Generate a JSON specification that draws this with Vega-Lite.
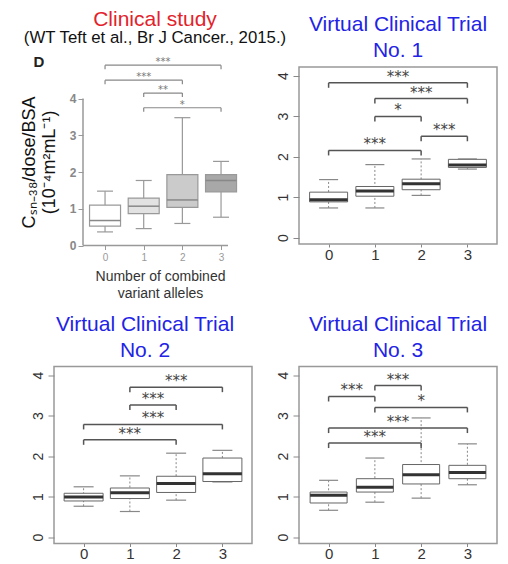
{
"$schema": "https://vega.github.io/schema/vega-lite/v6.json",
"background": "white",
"padding": {"left": 20, "top": 9, "right": 0, "bottom": 0},
"columns": 2,
"spacing": {"row": 120.5, "column": 47},
"bounds": "flush",
"config": {"view": {"stroke": null}, "axis": {"grid": false}},
"datasets": {
"boxes": [
{"p":1,"g":0,"lo":0.37,"q1":0.53,"med":0.68,"q3":1.10,"hi":1.48},
{"p":1,"g":1,"lo":0.46,"q1":0.87,"med":1.07,"q3":1.29,"hi":1.77},
{"p":1,"g":2,"lo":0.60,"q1":1.04,"med":1.24,"q3":1.93,"hi":3.48},
{"p":1,"g":3,"lo":0.77,"q1":1.46,"med":1.77,"q3":1.93,"hi":2.29},
{"p":2,"g":0,"lo":0.73,"q1":0.88,"med":0.93,"q3":1.12,"hi":1.43},
{"p":2,"g":1,"lo":0.73,"q1":1.02,"med":1.15,"q3":1.26,"hi":1.80},
{"p":2,"g":2,"lo":1.04,"q1":1.18,"med":1.33,"q3":1.44,"hi":1.94},
{"p":2,"g":3,"lo":1.69,"q1":1.73,"med":1.79,"q3":1.93,"hi":1.94},
{"p":3,"g":0,"lo":0.76,"q1":0.89,"med":0.99,"q3":1.08,"hi":1.24},
{"p":3,"g":1,"lo":0.63,"q1":0.95,"med":1.09,"q3":1.21,"hi":1.51},
{"p":3,"g":2,"lo":0.91,"q1":1.10,"med":1.32,"q3":1.50,"hi":2.07},
{"p":3,"g":3,"lo":1.36,"q1":1.37,"med":1.56,"q3":1.95,"hi":2.14},
{"p":4,"g":0,"lo":0.66,"q1":0.84,"med":1.03,"q3":1.11,"hi":1.40},
{"p":4,"g":1,"lo":0.86,"q1":1.11,"med":1.23,"q3":1.44,"hi":1.95},
{"p":4,"g":2,"lo":0.96,"q1":1.31,"med":1.54,"q3":1.79,"hi":2.94},
{"p":4,"g":3,"lo":1.29,"q1":1.44,"med":1.59,"q3":1.77,"hi":2.30}
],
"brackets": [
{"p":1,"a":0,"b":3,"mid":1.5,"y":4.91,"s":"***"},
{"p":1,"a":0,"b":2,"mid":1.0,"y":4.50,"s":"***"},
{"p":1,"a":1,"b":2,"mid":1.5,"y":4.15,"s":"**"},
{"p":1,"a":1,"b":3,"mid":2.0,"y":3.75,"s":"*"},
{"p":2,"a":0,"b":3,"mid":1.5,"y":3.82,"s":"***"},
{"p":2,"a":1,"b":3,"mid":2.0,"y":3.43,"s":"***"},
{"p":2,"a":1,"b":2,"mid":1.5,"y":2.99,"s":"*"},
{"p":2,"a":2,"b":3,"mid":2.5,"y":2.50,"s":"***"},
{"p":2,"a":0,"b":2,"mid":1.0,"y":2.15,"s":"***"},
{"p":3,"a":1,"b":3,"mid":2.0,"y":3.70,"s":"***"},
{"p":3,"a":1,"b":2,"mid":1.5,"y":3.26,"s":"***"},
{"p":3,"a":0,"b":3,"mid":1.5,"y":2.78,"s":"***"},
{"p":3,"a":0,"b":2,"mid":1.0,"y":2.40,"s":"***"},
{"p":4,"a":1,"b":2,"mid":1.5,"y":3.74,"s":"***"},
{"p":4,"a":0,"b":1,"mid":0.5,"y":3.47,"s":"***"},
{"p":4,"a":1,"b":3,"mid":2.0,"y":3.20,"s":"*"},
{"p":4,"a":0,"b":3,"mid":1.5,"y":2.69,"s":"***"},
{"p":4,"a":0,"b":2,"mid":1.0,"y":2.32,"s":"***"}
]
},
"concat": [
{
"width": 174, "height": 178.5,
"title": {"text": "Clinical study", "subtitle": "(WT Teft et al., Br J Cancer., 2015.)", "color": "#e3232b", "fontSize": 21, "font": "Liberation Sans", "fontWeight": "normal", "subtitleFont": "Liberation Sans", "subtitleFontSize": 16.8, "subtitleColor": "#111", "subtitlePadding": 0, "offset": 8, "dx": 14, "anchor": "middle"},
"layer": [
{"data": {"values": [{}]},
 "mark": {"type": "rule", "color": "#999", "strokeWidth": 1.5},
 "encoding": {"x": {"datum": -0.57, "type": "quantitative", "scale": {"domain": [-1.32, 3.18], "nice": false, "zero": false, "padding": 0},
   "axis": {"values": [0,1,2,3], "domain": false, "tickSize": 4, "tickColor": "#999", "labelFontSize": 10, "labelColor": "#999", "labelFont": "Liberation Sans", "labelPadding": 3, "title": ["Number of combined", "variant alleles"], "titleFont": "Liberation Sans", "titleFontSize": 14, "titleFontWeight": "normal", "titleColor": "#333", "titleX": 106, "titleY": 31, "titleBaseline": "middle", "titleLineHeight": 17}},
  "y": {"datum": 0, "type": "quantitative", "scale": {"domain": [0, 4.86], "nice": false, "zero": false, "padding": 0},
   "axis": {"values": [0,1,2,3,4], "offset": -29, "domain": false, "tickSize": 5, "tickColor": "#999", "labelFontSize": 12, "labelFontWeight": "bold", "labelColor": "#888", "labelFont": "Liberation Sans", "labelPadding": 2, "title": ["Cₛₙ₋₃₈/dose/BSA", "(10⁻⁴m²mL⁻¹)"], "titleFont": "Liberation Sans", "titleFontSize": 18, "titleFontWeight": "normal", "titleColor": "#111", "titleLineHeight": 20, "titleBaseline": "middle", "titleAngle": 270, "titleX": -54, "titleY": 95}},
  "y2": {"datum": 4}}},
{"data": {"values": [{}]},
 "mark": {"type": "rule", "color": "#999", "strokeWidth": 1.5},
 "encoding": {"x": {"datum": -0.57, "type": "quantitative"}, "x2": {"datum": 3.18}, "y": {"datum": 0, "type": "quantitative"}}},
{"data": {"values": [{}]},
 "mark": {"type": "text", "font": "Liberation Sans", "fontSize": 15, "fontWeight": "bold", "color": "#222", "baseline": "alphabetic"},
 "encoding": {"x": {"datum": -1.71, "type": "quantitative"}, "y": {"datum": 4.86, "type": "quantitative"}, "text": {"value": "D"}}},
{"data": {"name": "boxes"}, "transform": [{"filter": "datum.p == 1"}],
 "layer": [
  {"mark": {"type": "rule", "color": "#999", "strokeWidth": 1.2},
   "encoding": {"x": {"field": "g", "type": "quantitative"}, "y": {"field": "lo", "type": "quantitative"}, "y2": {"field": "hi"}}},
  {"mark": {"type": "tick", "orient": "horizontal", "size": 16, "thickness": 1.2, "color": "#999", "opacity": 1},
   "encoding": {"x": {"field": "g", "type": "quantitative"}, "y": {"field": "lo", "type": "quantitative"}}},
  {"mark": {"type": "tick", "orient": "horizontal", "size": 16, "thickness": 1.2, "color": "#999", "opacity": 1},
   "encoding": {"x": {"field": "g", "type": "quantitative"}, "y": {"field": "hi", "type": "quantitative"}}},
  {"mark": {"type": "bar", "size": 31, "stroke": "#999", "strokeWidth": 1.2, "opacity": 1},
   "encoding": {"x": {"field": "g", "type": "quantitative"}, "y": {"field": "q1", "type": "quantitative"}, "y2": {"field": "q3"},
    "color": {"field": "g", "type": "nominal", "scale": {"domain": [0,1,2,3], "range": ["#ffffff", "#e2e2e2", "#cbcbcb", "#a8a8a8"]}, "legend": null}}},
  {"mark": {"type": "tick", "orient": "horizontal", "size": 31, "thickness": 1.5, "color": "#888", "opacity": 1},
   "encoding": {"x": {"field": "g", "type": "quantitative"}, "y": {"field": "med", "type": "quantitative"}}}
 ]},
{"data": {"name": "brackets"}, "transform": [{"filter": "datum.p == 1"}],
 "layer": [
  {"mark": {"type": "rule", "color": "#888", "strokeWidth": 1.2},
   "encoding": {"x": {"field": "a", "type": "quantitative"}, "x2": {"field": "b"}, "y": {"field": "y", "type": "quantitative"}}},
  {"mark": {"type": "rule", "color": "#888", "strokeWidth": 1.2, "y2Offset": 4},
   "encoding": {"x": {"field": "a", "type": "quantitative"}, "y": {"field": "y", "type": "quantitative"}, "y2": {"field": "y"}}},
  {"mark": {"type": "rule", "color": "#888", "strokeWidth": 1.2, "y2Offset": 4},
   "encoding": {"x": {"field": "b", "type": "quantitative"}, "y": {"field": "y", "type": "quantitative"}, "y2": {"field": "y"}}},
  {"mark": {"type": "text", "font": "DejaVu Sans", "fontSize": 10, "color": "#777", "baseline": "alphabetic", "dy": 0},
   "encoding": {"x": {"field": "mid", "type": "quantitative"}, "y": {"field": "y", "type": "quantitative"}, "text": {"field": "s"}}}
 ]}
]
},
{
"width": 198, "height": 177,
"view": {"stroke": "#999", "strokeWidth": 1.5},
"title": {"text": ["Virtual Clinical Trial", "No. 1"], "color": "#2323e6", "fontSize": 21, "font": "Liberation Sans", "fontWeight": "normal", "lineHeight": 26, "offset": 6, "anchor": "middle"},
"layer": [
{"data": {"name": "boxes"}, "transform": [{"filter": "datum.p == 2"}],
 "layer": [
  {"mark": {"type": "rule", "color": "#888", "strokeDash": [2,2]},
   "encoding": {"x": {"field": "g", "type": "quantitative", "scale": {"domain": [-0.64, 3.64], "nice": false, "zero": false, "padding": 0}, "axis": {"values": [0,1,2,3], "title": null, "domain": false, "tickSize": 3, "tickColor": "#888", "labelFontSize": 15, "labelColor": "#333", "labelFont": "Liberation Sans", "labelPadding": 0}},
    "y": {"field": "lo", "type": "quantitative", "scale": {"domain": [-0.16, 4.21], "nice": false, "zero": false, "padding": 0}, "axis": {"values": [0,1,2,3,4], "title": null, "domain": false, "tickSize": 6, "tickColor": "#888", "labelAngle": 270, "labelFontSize": 14, "labelColor": "#333", "labelFont": "Liberation Sans", "labelPadding": 3}},
    "y2": {"field": "hi"}}},
  {"mark": {"type": "tick", "orient": "horizontal", "size": 19, "thickness": 1.2, "color": "#888", "opacity": 1},
   "encoding": {"x": {"field": "g", "type": "quantitative", "title": null}, "y": {"field": "lo", "type": "quantitative", "title": null}}},
  {"mark": {"type": "tick", "orient": "horizontal", "size": 19, "thickness": 1.2, "color": "#888", "opacity": 1},
   "encoding": {"x": {"field": "g", "type": "quantitative", "title": null}, "y": {"field": "hi", "type": "quantitative", "title": null}}},
  {"mark": {"type": "bar", "size": 38, "fill": "white", "stroke": "#666", "strokeWidth": 1, "opacity": 1},
   "encoding": {"x": {"field": "g", "type": "quantitative", "title": null}, "y": {"field": "q1", "type": "quantitative", "title": null}, "y2": {"field": "q3"}}},
  {"mark": {"type": "tick", "orient": "horizontal", "size": 38, "thickness": 3, "color": "#333", "opacity": 1},
   "encoding": {"x": {"field": "g", "type": "quantitative", "title": null}, "y": {"field": "med", "type": "quantitative", "title": null}}}
 ]},
{"data": {"name": "brackets"}, "transform": [{"filter": "datum.p == 2"}],
 "layer": [
  {"mark": {"type": "rule", "color": "#555", "strokeWidth": 1.5},
   "encoding": {"x": {"field": "a", "type": "quantitative", "title": null}, "x2": {"field": "b"}, "y": {"field": "y", "type": "quantitative", "title": null}}},
  {"mark": {"type": "rule", "color": "#555", "strokeWidth": 1.5, "y2Offset": 5},
   "encoding": {"x": {"field": "a", "type": "quantitative", "title": null}, "y": {"field": "y", "type": "quantitative", "title": null}, "y2": {"field": "y"}}},
  {"mark": {"type": "rule", "color": "#555", "strokeWidth": 1.5, "y2Offset": 5},
   "encoding": {"x": {"field": "b", "type": "quantitative", "title": null}, "y": {"field": "y", "type": "quantitative", "title": null}, "y2": {"field": "y"}}},
  {"mark": {"type": "text", "font": "DejaVu Sans", "fontSize": 15, "color": "#444", "baseline": "alphabetic", "dy": -1},
   "encoding": {"x": {"field": "mid", "type": "quantitative", "title": null}, "y": {"field": "y", "type": "quantitative", "title": null}, "text": {"field": "s"}}}
 ]}
]
},
{
"width": 198, "height": 177,
"view": {"stroke": "#999", "strokeWidth": 1.5},
"title": {"text": ["Virtual Clinical Trial", "No. 2"], "color": "#2323e6", "fontSize": 21, "font": "Liberation Sans", "fontWeight": "normal", "lineHeight": 26, "offset": 6, "anchor": "middle", "dx": -8},
"layer": [
{"data": {"name": "boxes"}, "transform": [{"filter": "datum.p == 3"}],
 "layer": [
  {"mark": {"type": "rule", "color": "#888", "strokeDash": [2,2]},
   "encoding": {"x": {"field": "g", "type": "quantitative", "scale": {"domain": [-0.64, 3.64], "nice": false, "zero": false, "padding": 0}, "axis": {"values": [0,1,2,3], "title": null, "domain": false, "tickSize": 3, "tickColor": "#888", "labelFontSize": 15, "labelColor": "#333", "labelFont": "Liberation Sans", "labelPadding": 0}},
    "y": {"field": "lo", "type": "quantitative", "scale": {"domain": [-0.16, 4.21], "nice": false, "zero": false, "padding": 0}, "axis": {"values": [0,1,2,3,4], "title": null, "domain": false, "tickSize": 6, "tickColor": "#888", "labelAngle": 270, "labelFontSize": 14, "labelColor": "#333", "labelFont": "Liberation Sans", "labelPadding": 3}},
    "y2": {"field": "hi"}}},
  {"mark": {"type": "tick", "orient": "horizontal", "size": 20, "thickness": 1.2, "color": "#888", "opacity": 1},
   "encoding": {"x": {"field": "g", "type": "quantitative", "title": null}, "y": {"field": "lo", "type": "quantitative", "title": null}}},
  {"mark": {"type": "tick", "orient": "horizontal", "size": 20, "thickness": 1.2, "color": "#888", "opacity": 1},
   "encoding": {"x": {"field": "g", "type": "quantitative", "title": null}, "y": {"field": "hi", "type": "quantitative", "title": null}}},
  {"mark": {"type": "bar", "size": 39, "fill": "white", "stroke": "#666", "strokeWidth": 1, "opacity": 1},
   "encoding": {"x": {"field": "g", "type": "quantitative", "title": null}, "y": {"field": "q1", "type": "quantitative", "title": null}, "y2": {"field": "q3"}}},
  {"mark": {"type": "tick", "orient": "horizontal", "size": 39, "thickness": 3, "color": "#333", "opacity": 1},
   "encoding": {"x": {"field": "g", "type": "quantitative", "title": null}, "y": {"field": "med", "type": "quantitative", "title": null}}}
 ]},
{"data": {"name": "brackets"}, "transform": [{"filter": "datum.p == 3"}],
 "layer": [
  {"mark": {"type": "rule", "color": "#555", "strokeWidth": 1.5},
   "encoding": {"x": {"field": "a", "type": "quantitative", "title": null}, "x2": {"field": "b"}, "y": {"field": "y", "type": "quantitative", "title": null}}},
  {"mark": {"type": "rule", "color": "#555", "strokeWidth": 1.5, "y2Offset": 5},
   "encoding": {"x": {"field": "a", "type": "quantitative", "title": null}, "y": {"field": "y", "type": "quantitative", "title": null}, "y2": {"field": "y"}}},
  {"mark": {"type": "rule", "color": "#555", "strokeWidth": 1.5, "y2Offset": 5},
   "encoding": {"x": {"field": "b", "type": "quantitative", "title": null}, "y": {"field": "y", "type": "quantitative", "title": null}, "y2": {"field": "y"}}},
  {"mark": {"type": "text", "font": "DejaVu Sans", "fontSize": 15, "color": "#444", "baseline": "alphabetic", "dy": -1},
   "encoding": {"x": {"field": "mid", "type": "quantitative", "title": null}, "y": {"field": "y", "type": "quantitative", "title": null}, "text": {"field": "s"}}}
 ]}
]
},
{
"width": 198, "height": 177,
"view": {"stroke": "#999", "strokeWidth": 1.5},
"title": {"text": ["Virtual Clinical Trial", "No. 3"], "color": "#2323e6", "fontSize": 21, "font": "Liberation Sans", "fontWeight": "normal", "lineHeight": 26, "offset": 6, "anchor": "middle"},
"layer": [
{"data": {"name": "boxes"}, "transform": [{"filter": "datum.p == 4"}],
 "layer": [
  {"mark": {"type": "rule", "color": "#888", "strokeDash": [2,2]},
   "encoding": {"x": {"field": "g", "type": "quantitative", "scale": {"domain": [-0.64, 3.64], "nice": false, "zero": false, "padding": 0}, "axis": {"values": [0,1,2,3], "title": null, "domain": false, "tickSize": 3, "tickColor": "#888", "labelFontSize": 15, "labelColor": "#333", "labelFont": "Liberation Sans", "labelPadding": 0}},
    "y": {"field": "lo", "type": "quantitative", "scale": {"domain": [-0.16, 4.21], "nice": false, "zero": false, "padding": 0}, "axis": {"values": [0,1,2,3,4], "title": null, "domain": false, "tickSize": 6, "tickColor": "#888", "labelAngle": 270, "labelFontSize": 14, "labelColor": "#333", "labelFont": "Liberation Sans", "labelPadding": 3}},
    "y2": {"field": "hi"}}},
  {"mark": {"type": "tick", "orient": "horizontal", "size": 19, "thickness": 1.2, "color": "#888", "opacity": 1},
   "encoding": {"x": {"field": "g", "type": "quantitative", "title": null}, "y": {"field": "lo", "type": "quantitative", "title": null}}},
  {"mark": {"type": "tick", "orient": "horizontal", "size": 19, "thickness": 1.2, "color": "#888", "opacity": 1},
   "encoding": {"x": {"field": "g", "type": "quantitative", "title": null}, "y": {"field": "hi", "type": "quantitative", "title": null}}},
  {"mark": {"type": "bar", "size": 37, "fill": "white", "stroke": "#666", "strokeWidth": 1, "opacity": 1},
   "encoding": {"x": {"field": "g", "type": "quantitative", "title": null}, "y": {"field": "q1", "type": "quantitative", "title": null}, "y2": {"field": "q3"}}},
  {"mark": {"type": "tick", "orient": "horizontal", "size": 37, "thickness": 3, "color": "#333", "opacity": 1},
   "encoding": {"x": {"field": "g", "type": "quantitative", "title": null}, "y": {"field": "med", "type": "quantitative", "title": null}}}
 ]},
{"data": {"name": "brackets"}, "transform": [{"filter": "datum.p == 4"}],
 "layer": [
  {"mark": {"type": "rule", "color": "#555", "strokeWidth": 1.5},
   "encoding": {"x": {"field": "a", "type": "quantitative", "title": null}, "x2": {"field": "b"}, "y": {"field": "y", "type": "quantitative", "title": null}}},
  {"mark": {"type": "rule", "color": "#555", "strokeWidth": 1.5, "y2Offset": 5},
   "encoding": {"x": {"field": "a", "type": "quantitative", "title": null}, "y": {"field": "y", "type": "quantitative", "title": null}, "y2": {"field": "y"}}},
  {"mark": {"type": "rule", "color": "#555", "strokeWidth": 1.5, "y2Offset": 5},
   "encoding": {"x": {"field": "b", "type": "quantitative", "title": null}, "y": {"field": "y", "type": "quantitative", "title": null}, "y2": {"field": "y"}}},
  {"mark": {"type": "text", "font": "DejaVu Sans", "fontSize": 15, "color": "#444", "baseline": "alphabetic", "dy": -1},
   "encoding": {"x": {"field": "mid", "type": "quantitative", "title": null}, "y": {"field": "y", "type": "quantitative", "title": null}, "text": {"field": "s"}}}
 ]}
]
}
]
}
